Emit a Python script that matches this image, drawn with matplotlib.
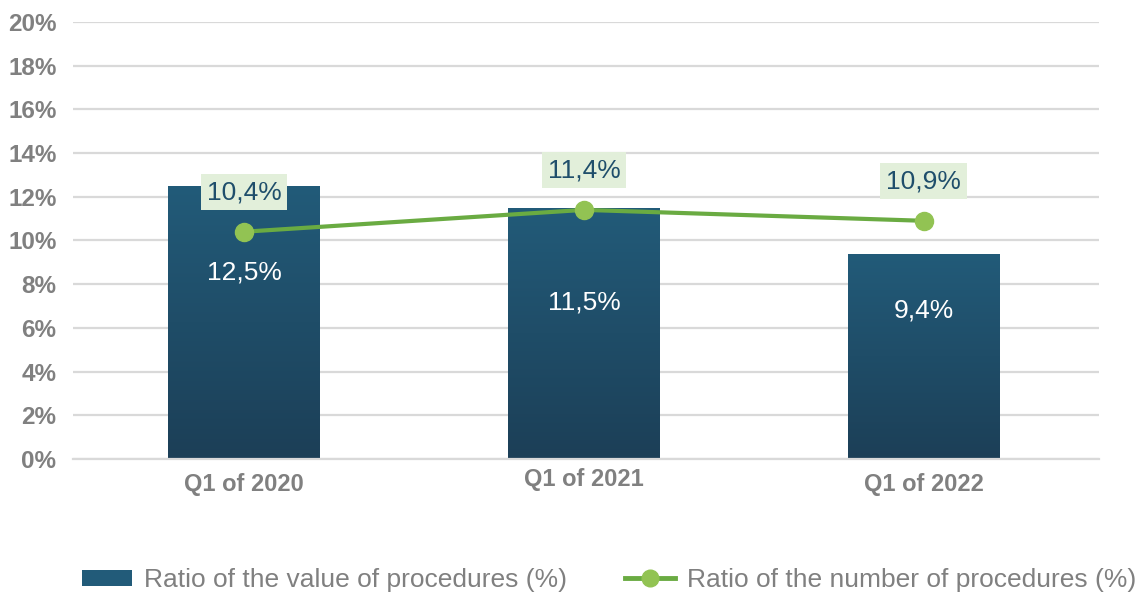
import numpy as np
import matplotlib.pyplot as plt
import matplotlib.transforms as mtransforms
from matplotlib.colors import LinearSegmentedColormap
from matplotlib.patches import Patch
from matplotlib.lines import Line2D

plt.rcParams['font.family'] = ['Liberation Sans', 'DejaVu Sans']

quarters = ["Q1 of 2020", "Q1 of 2021", "Q1 of 2022"]
value_ratio = [12.5, 11.5, 9.4]
number_ratio = [10.4, 11.4, 10.9]
value_labels = ["12,5%", "11,5%", "9,4%"]
number_labels = ["10,4%", "11,4%", "10,9%"]
# where the white labels sit inside the bars
value_label_y = [8.55, 7.15, 6.8]

grid_c = "#d9d9d9"
tick_c = "#808080"
bar_top = "#225b79"
bar_bot = "#1c3f57"
line_c = "#6aab42"
marker_c = "#92c353"
box_c = "#e2efda"
label_c = "#1f4e6b"

fig = plt.figure(figsize=(11.42, 5.93), dpi=100)
ax = fig.add_axes([0.064, 0.226, 0.898, 0.737])

x = np.arange(len(quarters))
bars = ax.bar(x, value_ratio, width=0.447, color=bar_bot, zorder=2)

cmap = LinearSegmentedColormap.from_list("bar", [bar_bot, bar_top])
grad = np.linspace(0, 1, 256).reshape(-1, 1)
for b in bars:
    bx, by = b.get_x(), b.get_y()
    im = ax.imshow(grad, cmap=cmap, origin="lower", aspect="auto",
                   extent=[bx, bx + b.get_width(), by, by + b.get_height()],
                   zorder=2.5)
    im.set_clip_path(b)

ax.plot(x, number_ratio, color=line_c, lw=3, zorder=3)
ax.plot(x, number_ratio, 'o', ms=13, color=marker_c, mec=marker_c, zorder=4)

for xi, yv, lab in zip(x, value_label_y, value_labels):
    ax.text(xi, yv, lab, color="white", fontsize=19, ha="center", va="center", zorder=5)

for xi, v, lab in zip(x, number_ratio, number_labels):
    ax.annotate(lab, (xi, v), xytext=(0, 28.5), textcoords="offset points",
                ha="center", va="center", fontsize=19, color=label_c, zorder=6,
                bbox=dict(boxstyle="square,pad=0.22", fc=box_c, ec="none"))

ax.set_xlim(-0.504, 2.515)
ax.set_ylim(0, 20)
ax.set_yticks(np.arange(0, 21, 2))
ax.set_yticklabels([f"{t}%" for t in range(0, 21, 2)])
ax.set_xticks(x)
ax.set_xticklabels(quarters)
ax.tick_params(axis="y", length=0, colors=tick_c, labelsize=17.5, pad=12)
ax.tick_params(axis="x", length=0, colors=tick_c, labelsize=17, pad=10)
for t in ax.get_xticklabels() + ax.get_yticklabels():
    t.set_fontweight("bold")
# the middle category label sits a little higher in the original
mid = ax.get_xticklabels()[1]
mid.set_transform(mid.get_transform() + mtransforms.ScaledTranslation(0, 5 / 100, fig.dpi_scale_trans))
ax.grid(axis="y", color=grid_c, lw=1.6, zorder=0)
ax.set_axisbelow(True)
for s in ["top", "right", "left"]:
    ax.spines[s].set_visible(False)
ax.spines["bottom"].set_color(grid_c)
ax.spines["bottom"].set_linewidth(1.6)

handles = [Patch(facecolor=bar_top, edgecolor="none"),
           Line2D([0], [0], color=line_c, lw=3.5, marker="o", ms=12,
                  mfc=marker_c, mec=marker_c)]
fig.legend(handles, ["Ratio of the value of procedures (%)",
                     "Ratio of the number of procedures (%)"],
           loc="center", bbox_to_anchor=(0.533, 0.022), ncol=2, frameon=False,
           fontsize=19, labelcolor=tick_c, handlelength=1.9, handleheight=0.55,
           columnspacing=2.2, handletextpad=0.45)

fig.savefig("out.png", dpi=100)
